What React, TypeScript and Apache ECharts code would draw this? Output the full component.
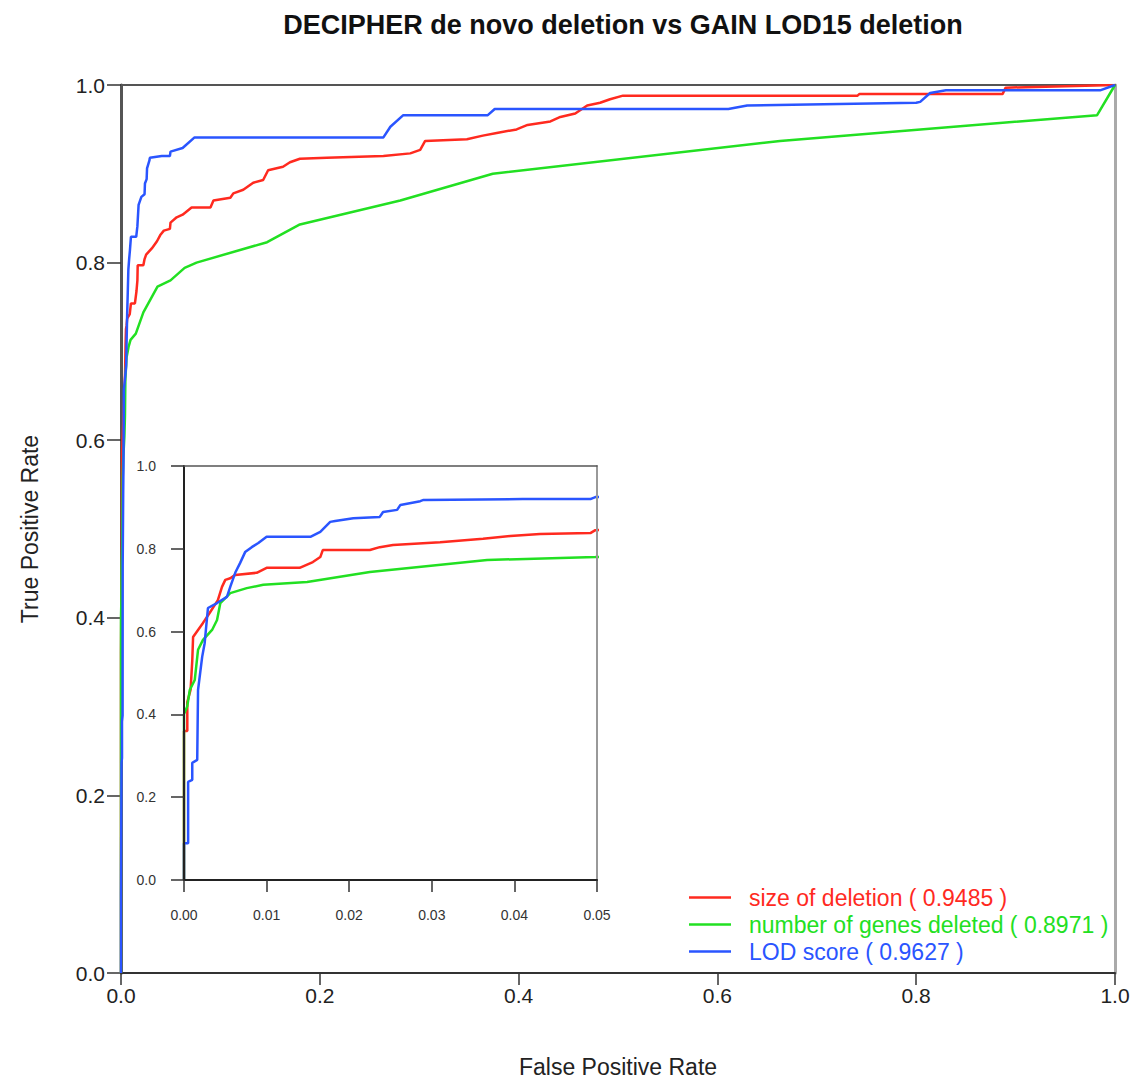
import React, { useEffect, useRef } from "react";
import * as echarts from "echarts";

const chartTitle = "DECIPHER de novo deletion vs GAIN LOD15 deletion";
const seriesNames = [
  "size of deletion ( 0.9485 )",
  "number of genes deleted ( 0.8971 )",
  "LOD score ( 0.9627 )",
];
const seriesColors = ["#ff2a1f", "#22e022", "#2a55ff"];

const mainTickLabels = ["0.0", "0.2", "0.4", "0.6", "0.8", "1.0"];
const insetXTickLabels = ["0.00", "0.01", "0.02", "0.03", "0.04", "0.05"];
const insetYTickLabels = ["0.0", "0.2", "0.4", "0.6", "0.8", "1.0"];

// size of deletion
const sizeFpr = [0, 0, 0.0004, 0.0004, 0.0008, 0.001, 0.0011, 0.0017, 0.0023, 0.0031, 0.0041, 0.0046, 0.005, 0.0056, 0.0062, 0.0088, 0.01, 0.014, 0.0156, 0.0165, 0.0168, 0.0225, 0.0237, 0.0253, 0.031, 0.0362, 0.0395, 0.0431, 0.0492, 0.0498, 0.056, 0.062, 0.071, 0.09, 0.093, 0.11, 0.113, 0.123, 0.133, 0.143, 0.148, 0.163, 0.17, 0.18, 0.207, 0.264, 0.291, 0.301, 0.306, 0.348, 0.364, 0.378, 0.398, 0.409, 0.432, 0.442, 0.457, 0.469, 0.482, 0.492, 0.505, 0.741, 0.743, 0.887, 0.89, 1.0];
const sizeTpr = [0, 0.36, 0.36, 0.43, 0.46, 0.53, 0.587, 0.604, 0.621, 0.645, 0.676, 0.708, 0.725, 0.729, 0.737, 0.742, 0.754, 0.754, 0.768, 0.78, 0.797, 0.797, 0.804, 0.809, 0.816, 0.824, 0.831, 0.836, 0.838, 0.845, 0.851, 0.854, 0.862, 0.862, 0.87, 0.873, 0.878, 0.882, 0.89, 0.893, 0.904, 0.908, 0.913, 0.917, 0.918, 0.92, 0.923, 0.927, 0.937, 0.939, 0.943, 0.946, 0.95, 0.955, 0.959, 0.964, 0.968, 0.977, 0.98, 0.984, 0.988, 0.988, 0.99, 0.99, 0.997, 1.0];

// number of genes deleted
const genesFpr = [0, 0, 0.0004, 0.0007, 0.0013, 0.0017, 0.0023, 0.0034, 0.004, 0.0044, 0.0056, 0.0076, 0.0096, 0.0149, 0.0225, 0.0367, 0.0498, 0.064, 0.076, 0.147, 0.18, 0.281, 0.374, 0.663, 0.982, 1.0];
const genesTpr = [0, 0.4, 0.42, 0.459, 0.483, 0.556, 0.58, 0.604, 0.628, 0.669, 0.693, 0.705, 0.713, 0.72, 0.744, 0.773, 0.78, 0.794, 0.8, 0.823, 0.843, 0.87, 0.9, 0.937, 0.966, 1.0];

// LOD score
const lodFpr = [0, 0, 0.0005, 0.0005, 0.001, 0.001, 0.0016, 0.0017, 0.0022, 0.0025, 0.0029, 0.004, 0.0052, 0.0056, 0.0062, 0.0068, 0.0074, 0.0082, 0.009, 0.01, 0.0153, 0.0165, 0.0177, 0.0183, 0.0205, 0.0237, 0.0241, 0.0258, 0.0262, 0.0286, 0.029, 0.041, 0.0492, 0.0498, 0.062, 0.074, 0.264, 0.271, 0.284, 0.369, 0.376, 0.611, 0.63, 0.8, 0.804, 0.814, 0.83, 0.985, 1.0];
const lodTpr = [0, 0.089, 0.089, 0.237, 0.242, 0.283, 0.29, 0.459, 0.539, 0.572, 0.657, 0.669, 0.684, 0.708, 0.742, 0.766, 0.792, 0.804, 0.814, 0.829, 0.829, 0.841, 0.865, 0.867, 0.874, 0.877, 0.889, 0.894, 0.906, 0.915, 0.918, 0.92, 0.92, 0.925, 0.929, 0.941, 0.941, 0.953, 0.966, 0.966, 0.973, 0.973, 0.977, 0.98, 0.981, 0.991, 0.994, 0.994, 1.0];

const FONT = "Liberation Sans, Arial, Helvetica, sans-serif";

function pairs(xs: number[], ys: number[]) {
  return xs.map((x, i) => [x, ys[i]]);
}

export default function App() {
  const ref = useRef<HTMLDivElement>(null);
  useEffect(() => {
    document.body.style.margin = "0";
    document.body.style.overflow = "hidden";
    const chart = echarts.init(ref.current!, null, { renderer: "svg", width: 1136, height: 1081 });
    const curves = [
      pairs(sizeFpr, sizeTpr),
      pairs(genesFpr, genesTpr),
      pairs(lodFpr, lodTpr),
    ];
    const series: any[] = [];
    curves.forEach((d, i) => {
      series.push({
        name: seriesNames[i],
        type: "line",
        xAxisIndex: 0,
        yAxisIndex: 0,
        data: d,
        symbol: "none",
        clip: true,
        lineStyle: { color: seriesColors[i], width: 2.5 },
        itemStyle: { color: seriesColors[i] },
        z: 3,
      });
    });
    curves.forEach((d, i) => {
      series.push({
        name: seriesNames[i],
        type: "line",
        xAxisIndex: 2,
        yAxisIndex: 2,
        data: d,
        symbol: "none",
        clip: true,
        lineStyle: { color: seriesColors[i], width: 2.5 },
        itemStyle: { color: seriesColors[i] },
        z: 5,
      });
    });
    const option: any = {
      animation: false,
      backgroundColor: "#ffffff",
      title: {
        text: chartTitle,
        left: 618,
        top: 6,
        textAlign: "center",
        textStyle: { fontSize: 27, fontWeight: "bold", color: "#111", fontFamily: FONT },
      },
      legend: {
        orient: "vertical",
        left: 684,
        top: 881,
        icon: "rect",
        itemWidth: 42,
        itemHeight: 2.5,
        itemGap: 4,
        data: seriesNames.map((n, i) => ({
          name: n,
          textStyle: { color: seriesColors[i] },
        })),
        textStyle: { fontSize: 23, fontFamily: FONT, padding: [0, 0, 0, 13] },
      },
      grid: [
        { left: 121, top: 85, width: 994, height: 888, show: false, outerBoundsMode: "none", containLabel: false },
        { left: 184, top: 466, width: 413, height: 414, show: true, backgroundColor: "#ffffff", borderWidth: 0, z: 4, outerBoundsMode: "none", containLabel: false },
      ],
      xAxis: [
        {
          type: "value", gridIndex: 0, min: 0, max: 1, interval: 0.2,
          axisLine: { show: true, onZero: false, lineStyle: { color: "#333", width: 2 } },
          axisTick: { show: true, length: 12, lineStyle: { color: "#333", width: 1.5 } },
          axisLabel: {
            fontSize: 21, color: "#222", margin: 12, fontFamily: FONT,
            formatter: (v: number) => mainTickLabels[Math.round(v / 0.2)],
          },
          splitLine: { show: false },
          name: "False Positive Rate", nameLocation: "middle", nameGap: 82,
          nameTextStyle: { fontSize: 23, color: "#222", fontFamily: FONT },
        },
        {
          type: "value", gridIndex: 0, min: 0, max: 1, position: "top",
          axisLine: { show: true, onZero: false, lineStyle: { color: "#555", width: 2 } },
          axisTick: { show: false }, axisLabel: { show: false }, splitLine: { show: false },
        },
        {
          type: "value", gridIndex: 1, min: 0, max: 0.05, interval: 0.01,
          axisLine: { show: true, onZero: false, lineStyle: { color: "#222", width: 2 } },
          axisTick: { show: true, length: 12, lineStyle: { color: "#333", width: 1.5 } },
          axisLabel: {
            fontSize: 14, color: "#333", margin: 28, fontFamily: FONT,
            formatter: (v: number) => insetXTickLabels[Math.round(v / 0.01)],
          },
          splitLine: { show: false }, z: 6,
        },
        {
          type: "value", gridIndex: 1, min: 0, max: 0.05, position: "top",
          axisLine: { show: true, onZero: false, lineStyle: { color: "#555", width: 1.5 } },
          axisTick: { show: false }, axisLabel: { show: false }, splitLine: { show: false }, z: 6,
        },
      ],
      yAxis: [
        {
          type: "value", gridIndex: 0, min: 0, max: 1, interval: 0.2,
          axisLine: { show: true, onZero: false, lineStyle: { color: "#555", width: 3 } },
          axisTick: { show: true, length: 14, lineStyle: { color: "#333", width: 1.5 } },
          axisLabel: {
            fontSize: 21, color: "#222", margin: 16, fontFamily: FONT,
            formatter: (v: number) => mainTickLabels[Math.round(v / 0.2)],
          },
          splitLine: { show: false },
          name: "True Positive Rate", nameLocation: "middle", nameGap: 80, nameRotate: 90,
          nameTextStyle: { fontSize: 23, color: "#222", fontFamily: FONT },
        },
        {
          type: "value", gridIndex: 0, min: 0, max: 1, position: "right",
          axisLine: { show: true, onZero: false, lineStyle: { color: "#aaa", width: 3 } },
          axisTick: { show: false }, axisLabel: { show: false }, splitLine: { show: false },
        },
        {
          type: "value", gridIndex: 1, min: 0, max: 1, interval: 0.2,
          axisLine: { show: true, onZero: false, lineStyle: { color: "#222", width: 2 } },
          axisTick: { show: true, length: 13, lineStyle: { color: "#333", width: 1.5 } },
          axisLabel: {
            fontSize: 14, color: "#333", margin: 28, fontFamily: FONT,
            formatter: (v: number) => insetYTickLabels[Math.round(v / 0.2)],
          },
          splitLine: { show: false }, z: 6,
        },
        {
          type: "value", gridIndex: 1, min: 0, max: 1, position: "right",
          axisLine: { show: true, onZero: false, lineStyle: { color: "#999", width: 2 } },
          axisTick: { show: false }, axisLabel: { show: false }, splitLine: { show: false }, z: 6,
        },
      ],
      series,
    };
    chart.setOption(option);
    return () => chart.dispose();
  }, []);
  return <div ref={ref} style={{ width: 1136, height: 1081 }} />;
}
